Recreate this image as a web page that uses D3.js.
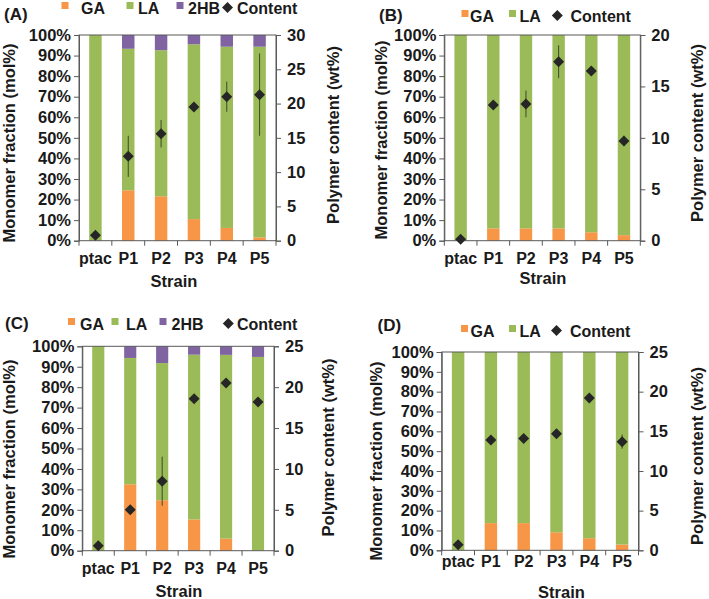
<!DOCTYPE html>
<html><head><meta charset="utf-8">
<script src="https://cdn.jsdelivr.net/npm/d3@7"></script>
<style>
html,body{margin:0;padding:0;background:#fff;}
svg text{font-family:"Liberation Sans",Arial,sans-serif;font-weight:bold;fill:#1a1a1a;}
</style></head>
<body><svg id="c" width="709" height="599"></svg>
<script>
const categories = ["ptac","P1","P2","P3","P4","P5"];
const leftTicks = [0,10,20,30,40,50,60,70,80,90,100];

// Panel A
const gaA = [0, 24.5, 21.6, 10.5, 6.2, 1.6];
const laA = [100, 68.8, 71.0, 85.0, 88.1, 92.7];
const hbA = [0, 6.7, 7.4, 4.5, 5.7, 5.7];
const contentA = [0.8, 12.3, 15.6, 19.5, 21.0, 21.3];
const errA = [0, 3.0, 2.0, 0.3, 2.2, 6.0];
const rightTicksA = [0,5,10,15,20,25,30];

// Panel B
const gaB = [0, 6.0, 6.0, 6.0, 4.1, 2.7];
const laB = [100, 94.0, 94.0, 94.0, 95.9, 97.3];
const contentB = [0.15, 13.2, 13.3, 17.4, 16.5, 9.7];
const errB = [0, 0.3, 1.3, 1.6, 0.4, 0.5];
const rightTicksB = [0,5,10,15,20];

// Panel C
const gaC = [0, 32.5, 24.7, 15.3, 5.9, 0];
const laC = [100, 61.8, 67.1, 80.6, 89.9, 94.8];
const hbC = [0, 5.7, 8.2, 4.1, 4.2, 5.2];
const contentC = [0.6, 5.0, 8.5, 18.6, 20.5, 18.2];
const errC = [0.3, 0.2, 3.0, 0.2, 0.2, 0.2];
const rightTicksC = [0,5,10,15,20,25];

// Panel D
const gaD = [0, 13.7, 13.7, 9.1, 6.1, 2.9];
const laD = [100, 86.3, 86.3, 90.9, 93.9, 97.1];
const contentD = [0.7, 13.9, 14.1, 14.7, 19.2, 13.7];
const errD = [0, 0.2, 0.2, 0.2, 0.3, 0.9];
const rightTicksD = [0,5,10,15,20,25];

const colors = {GA:"#F79646", LA:"#9BBB59", "2HB":"#8064A2"};
const svg = d3.select("#c");
const diamond = s => `M0,${-s}L${s},0L0,${s}L${-s},0Z`;

function panel(o){
  const g = svg.append("g");
  const keys = o.series.map(s=>s.name);
  const rows = categories.map((c,i)=>{const r={cat:c}; o.series.forEach(s=>r[s.name]=s.values[i]); return r;});
  const x = d3.scaleBand().domain(categories).range([o.x0,o.x1]).padding(0);
  const y = d3.scaleLinear().domain([0,100]).range([o.yB,o.yT]);
  const y2 = d3.scaleLinear().domain([0,o.rMax]).range([o.yB,o.yT]);
  const bw = x.bandwidth()*0.38;
  const stack = d3.stack().keys(keys)(rows);
  stack.forEach(layer=>{
    g.append("g").selectAll("rect").data(layer).enter().append("rect")
      .attr("x",d=>x(d.data.cat)+x.bandwidth()/2-bw/2)
      .attr("width",bw)
      .attr("y",d=>y(d[1]))
      .attr("height",d=>Math.max(0,y(d[0])-y(d[1])))
      .attr("fill",colors[layer.key]);
  });
  g.append("rect").attr("x",o.x0).attr("y",o.yT).attr("width",o.x1-o.x0).attr("height",o.yB-o.yT)
    .attr("fill","none").attr("stroke","#595959").attr("stroke-width",1);
  const la = d3.axisLeft(y).tickValues(leftTicks).tickFormat(d=>d+"%").tickSize(5).tickPadding(3);
  const lg = g.append("g").attr("transform",`translate(${o.x0},0)`).call(la);
  lg.select(".domain").attr("stroke","#595959");
  lg.selectAll(".tick line").attr("stroke","#595959");
  lg.selectAll("text").style("font-size","16.5px").attr("fill","#1a1a1a");
  const ra = d3.axisRight(y2).tickValues(o.rTicks).tickFormat(d3.format("d")).tickSize(5).tickPadding(6);
  const rg = g.append("g").attr("transform",`translate(${o.x1},0)`).call(ra);
  rg.select(".domain").attr("stroke","#595959");
  rg.selectAll(".tick line").attr("stroke","#595959");
  rg.selectAll("text").style("font-size","16.5px").attr("fill","#1a1a1a");
  const edges = categories.map(c=>x(c)).concat([o.x1]);
  g.append("g").selectAll("line").data(edges).enter().append("line")
    .attr("x1",d=>d).attr("x2",d=>d).attr("y1",o.yB).attr("y2",o.yB+5).attr("stroke","#595959");
  g.append("g").selectAll("text").data(categories).enter().append("text")
    .attr("x",d=>x(d)+x.bandwidth()/2).attr("y",o.catY).attr("text-anchor","middle")
    .style("font-size","16px").text(d=>d);
  g.append("g").selectAll("line").data(categories).enter().append("line")
    .attr("x1",d=>x(d)+x.bandwidth()/2).attr("x2",d=>x(d)+x.bandwidth()/2)
    .attr("y1",(d,i)=>y2(o.content[i]+o.err[i])).attr("y2",(d,i)=>y2(o.content[i]-o.err[i]))
    .attr("stroke","#3b4a2a").attr("stroke-width",1);
  g.append("g").selectAll("path").data(categories).enter().append("path")
    .attr("transform",(d,i)=>`translate(${x(d)+x.bandwidth()/2},${y2(o.content[i])})`)
    .attr("d",diamond(5.5)).attr("fill","#262626");
  g.append("text").attr("transform",`translate(${o.ltX},${o.ltY}) rotate(-90)`).attr("text-anchor","middle")
    .attr("dy","0.35em").style("font-size","16.5px").text("Monomer fraction (mol%)");
  g.append("text").attr("transform",`translate(${o.rtX},${o.rtY}) rotate(-90)`).attr("text-anchor","middle")
    .attr("dy","0.35em").style("font-size","16.5px").text("Polymer content (wt%)");
  g.append("text").attr("x",o.stX).attr("y",o.stY).attr("text-anchor","middle").style("font-size","16.5px").text("Strain");
  g.append("text").attr("x",o.lblX).attr("y",o.lblY).style("font-size","17px").text(o.label);
  o.legend.forEach(it=>{
    if(it.kind==="sq"){
      g.append("rect").attr("x",it.sx).attr("y",o.legY-11.5).attr("width",7).attr("height",7).attr("fill",colors[it.name]);
    } else {
      g.append("path").attr("transform",`translate(${it.sx},${o.legY-6})`).attr("d",diamond(5.5)).attr("fill","#262626");
    }
    g.append("text").attr("x",it.tx).attr("y",o.legY).style("font-size","16px").text(it.name);
  });
}

panel({x0:79,x1:276,yT:35,yB:240.7,rMax:30,rTicks:rightTicksA,
  series:[{name:"GA",values:gaA},{name:"LA",values:laA},{name:"2HB",values:hbA}],
  content:contentA, err:errA, catY:264, ltX:9.5, ltY:143, rtX:333, rtY:135, stX:174, stY:287,
  label:"(A)", lblX:4, lblY:20, legY:13.5,
  legend:[{kind:"sq",name:"GA",sx:61.5,tx:81},{kind:"sq",name:"LA",sx:126.5,tx:138},
          {kind:"sq",name:"2HB",sx:176.5,tx:188},{kind:"d",name:"Content",sx:227.5,tx:237}]});

panel({x0:444.3,x1:640.3,yT:35,yB:240.7,rMax:20,rTicks:rightTicksB,
  series:[{name:"GA",values:gaB},{name:"LA",values:laB}],
  content:contentB, err:errB, catY:263.5, ltX:381, ltY:140, rtX:697, rtY:133, stX:543, stY:284,
  label:"(B)", lblX:379, lblY:20.5, legY:21.5,
  legend:[{kind:"sq",name:"GA",sx:461.5,tx:470},{kind:"sq",name:"LA",sx:509,tx:519.5},
          {kind:"d",name:"Content",sx:557.3,tx:570.5}]});

panel({x0:82.3,x1:274,yT:346.3,yB:550.7,rMax:25,rTicks:rightTicksC,
  series:[{name:"GA",values:gaC},{name:"LA",values:laC},{name:"2HB",values:hbC}],
  content:contentC, err:errC, catY:573.5, ltX:9.5, ltY:459, rtX:328.5, rtY:447.5, stX:179, stY:597,
  label:"(C)", lblX:5, lblY:329, legY:329.5,
  legend:[{kind:"sq",name:"GA",sx:68,tx:80},{kind:"sq",name:"LA",sx:111.5,tx:126},
          {kind:"sq",name:"2HB",sx:159.5,tx:171.5},{kind:"d",name:"Content",sx:228.3,tx:237}]});

panel({x0:441.7,x1:638.5,yT:352,yB:550.3,rMax:25,rTicks:rightTicksD,
  series:[{name:"GA",values:gaD},{name:"LA",values:laD}],
  content:contentD, err:errD, catY:566.5, ltX:376, ltY:461, rtX:697, rtY:456, stX:561.5, stY:597.5,
  label:"(D)", lblX:377.5, lblY:331, legY:336.5,
  legend:[{kind:"sq",name:"GA",sx:461,tx:470.5},{kind:"sq",name:"LA",sx:509,tx:519.5},
          {kind:"d",name:"Content",sx:556.5,tx:570}]});
</script></body></html>
